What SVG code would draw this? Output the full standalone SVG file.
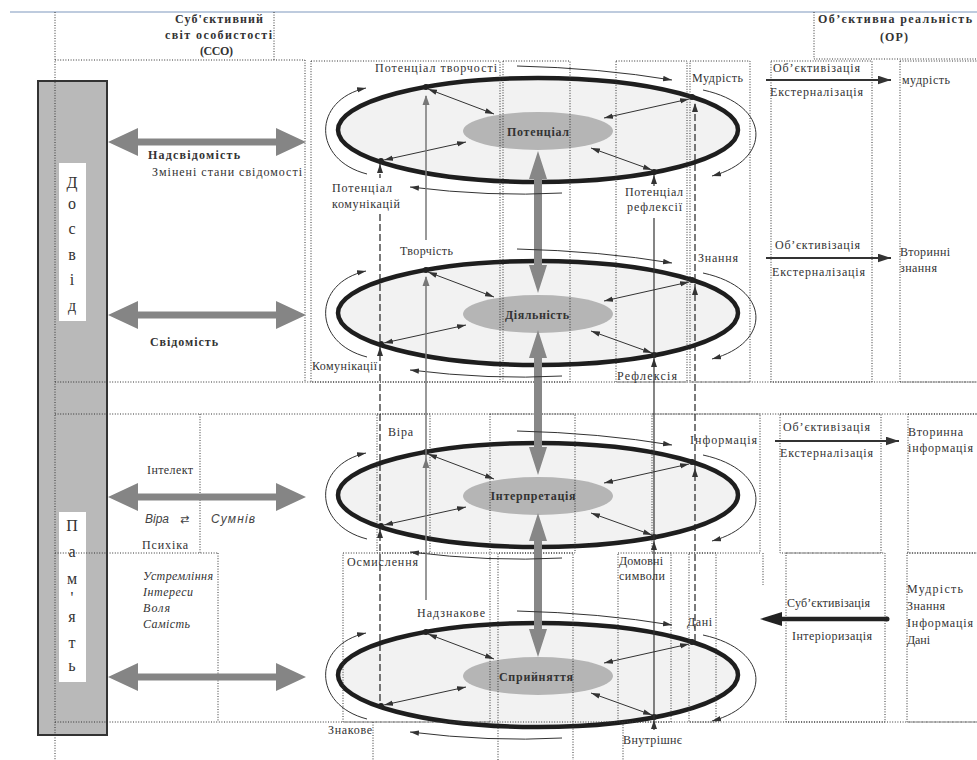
<svg xmlns="http://www.w3.org/2000/svg" xmlns:xlink="http://www.w3.org/1999/xlink" width="977" height="760" viewBox="0 0 977 760">
<defs>
<style>
.t{font-family:"Liberation Serif","DejaVu Serif",serif;font-size:12px;fill:#333}
.b{font-weight:bold}
.i{font-style:italic}
.s{font-family:"Liberation Sans","DejaVu Sans",sans-serif;font-style:italic;font-size:12px;fill:#444}
.c{text-anchor:middle}
.lt{font-family:"Liberation Serif","DejaVu Serif",serif;font-size:16px;fill:#333;text-anchor:middle}
.dot{fill:none;stroke:#333;stroke-width:1;stroke-dasharray:1 1.6}
.dash{fill:none;stroke:#222;stroke-width:1.2;stroke-dasharray:7 3}
.thin{fill:none;stroke:#333;stroke-width:1}
.outer{fill:#f2f2f2;stroke:#1e1e1e;stroke-width:4.5}
.inner{fill:#b5b5b5}
.garrow{fill:#878787}
.pt{fill:#222}
.obj{stroke:#333;stroke-width:2;fill:none}
</style>
<marker id="ah" viewBox="0 0 10 6" refX="10" refY="3" markerWidth="9" markerHeight="6" markerUnits="userSpaceOnUse" orient="auto-start-reverse"><path d="M0,0 L10,3 L0,6 z" fill="#333"/></marker>
<marker id="ahB" viewBox="0 0 12 8" refX="12" refY="4" markerWidth="13" markerHeight="9" markerUnits="userSpaceOnUse" orient="auto"><path d="M0,0 L12,4 L0,8 z" fill="#333"/></marker>
<path id="upA" d="M0,0 L-3,9 L3,9 z" fill="#333"/>
<path id="upG" d="M0,0 L-3.5,10 L3.5,10 z" fill="#777"/>
<path id="harrow" d="M108,0 L138,-14 L138,-3.5 L276,-3.5 L276,-14 L306,0 L276,14 L276,3.5 L138,3.5 L138,14 Z" fill="#858585"/>
<g id="ellU">
<ellipse class="outer" cx="538" cy="130" rx="200" ry="52"/>
<ellipse class="inner" cx="538" cy="131" rx="75" ry="19"/>
<circle class="pt" cx="426" cy="87" r="3"/>
<circle class="pt" cx="381" cy="161" r="3"/>
<circle class="pt" cx="692" cy="97" r="3"/>
<circle class="pt" cx="654" cy="172" r="3"/>
</g>
<g id="conU" class="thin">
<line x1="428" y1="89" x2="494" y2="114" marker-start="url(#ah)" marker-end="url(#ah)"/>
<line x1="384" y1="160" x2="466" y2="142" marker-start="url(#ah)" marker-end="url(#ah)"/>
<line x1="689" y1="99" x2="604" y2="118" marker-start="url(#ah)" marker-end="url(#ah)"/>
<line x1="652" y1="170" x2="591" y2="148" marker-start="url(#ah)" marker-end="url(#ah)"/>
<path d="M367 174 C312 160 312 100 366 88" marker-end="url(#ah)"/>
<path d="M517 66 Q600 68 672 80" marker-end="url(#ah)"/>
<path d="M703 90 C772 105 772 160 712 176" marker-end="url(#ah)"/>
<path d="M562 193 Q490 197 410 187" marker-end="url(#ah)"/>
</g>
</defs>
<rect width="977" height="760" fill="#fff"/>
<line x1="10" y1="12" x2="977" y2="12" stroke="#a9bad3" stroke-width="1.5"/>

<!-- left column -->
<g id="column">
<rect x="38" y="81" width="69" height="654" fill="#b9b9b9" stroke="#333" stroke-width="2"/>
<rect x="59" y="163" width="27" height="158" fill="#fff"/>
<text class="lt" x="72" y="188">Д</text>
<text class="lt" x="72" y="209">о</text>
<text class="lt" x="72" y="234">с</text>
<text class="lt" x="72" y="260">в</text>
<text class="lt" x="72" y="285">і</text>
<text class="lt" x="72" y="311">д</text>
<rect x="59" y="512" width="27" height="170" fill="#fff"/>
<text class="lt" x="72" y="531">П</text>
<text class="lt" x="72" y="557">а</text>
<text class="lt" x="72" y="584">м</text>
<text class="lt" x="72" y="603">'</text>
<text class="lt" x="72" y="622">я</text>
<text class="lt" x="72" y="648">т</text>
<text class="lt" x="72" y="671">ь</text>
</g>

<!-- ellipse nodes -->
<g id="node-potential"><use xlink:href="#ellU"/><text class="t b c" x="538" y="136" textLength="62">Потенціал</text></g>
<g id="node-activity"><use xlink:href="#ellU" y="183"/><text class="t b c" x="537" y="319" textLength="64">Діяльність</text></g>
<g id="node-interpretation"><use xlink:href="#ellU" y="365"/><text class="t b c" x="533" y="500" textLength="85">Інтерпретація</text></g>
<g id="node-perception"><use xlink:href="#ellU" y="545"/><text class="t b c" x="536" y="681" textLength="74">Сприйняття</text></g>

<!-- dotted grid -->
<g id="grid" class="dot">
<line x1="55" y1="12" x2="55" y2="760"/>
<line x1="274" y1="12" x2="274" y2="60"/>
<line x1="55" y1="60" x2="305" y2="60"/>
<polyline points="814,12 814,59 977,59"/>
<line x1="305" y1="60" x2="305" y2="382"/>
<rect x="311" y="61" width="189" height="321"/>
<rect x="503" y="61" width="67" height="321"/>
<rect x="616" y="61" width="71" height="321"/>
<rect x="690" y="61" width="60" height="321"/>
<rect x="771" y="61" width="101" height="321"/>
<rect x="900" y="61" width="80" height="321"/>
<line x1="55" y1="382" x2="977" y2="382"/>
<line x1="55" y1="414" x2="977" y2="414"/>
<line x1="200" y1="414" x2="200" y2="553"/>
<rect x="377" y="414" width="53" height="139"/>
<rect x="490" y="414" width="85" height="139"/>
<rect x="652" y="414" width="108" height="139"/>
<rect x="780" y="414" width="101" height="139"/>
<rect x="908" y="414" width="72" height="139"/>
<line x1="55" y1="553" x2="218" y2="553"/>
<line x1="218" y1="553" x2="218" y2="722"/>
<rect x="343" y="553" width="147" height="169"/>
<polyline points="498,760 498,553 573,553 573,760"/>
<rect x="618" y="553" width="53" height="169"/>
<rect x="689" y="553" width="27" height="169"/>
<line x1="763" y1="553" x2="763" y2="585"/>
<rect x="786" y="553" width="99" height="169"/>
<rect x="907" y="553" width="73" height="169"/>
<line x1="55" y1="722" x2="977" y2="722"/>
<line x1="373" y1="722" x2="373" y2="760"/>
<line x1="623" y1="722" x2="623" y2="760"/>
</g>

<!-- connectors -->
<g id="connectors">
<use xlink:href="#harrow" y="142"/>
<use xlink:href="#harrow" y="315"/>
<use xlink:href="#harrow" y="497"/>
<use xlink:href="#harrow" y="677"/>
<polygon class="garrow" points="538,151 547,179 542,179 542,265 547,265 538,293 529,265 534,265 534,179 529,179"/>
<polygon class="garrow" points="538,330 547,358 542,358 542,447 547,447 538,475 529,447 534,447 534,358 529,358"/>
<polygon class="garrow" points="538,513 547,541 542,541 542,629 547,629 538,657 529,629 534,629 534,541 529,541"/>
<use xlink:href="#conU"/>
<use xlink:href="#conU" y="183"/>
<use xlink:href="#conU" y="365"/>
<use xlink:href="#conU" y="545"/>
<!-- vertical lines -->
<line x1="426" y1="96" x2="426" y2="240" stroke="#777" stroke-width="1.5"/>
<line x1="426" y1="277" x2="426" y2="600" stroke="#777" stroke-width="1.5"/>
<use xlink:href="#upG" x="426" y="95"/>
<use xlink:href="#upG" x="426" y="276"/>
<use xlink:href="#upG" x="426" y="458"/>
<line class="dash" x1="380" y1="164" x2="380" y2="178"/>
<line class="dash" x1="380" y1="214" x2="380" y2="705"/>
<use xlink:href="#upA" x="380" y="164"/>
<use xlink:href="#upA" x="380" y="347"/>
<use xlink:href="#upA" x="380" y="529"/>
<line class="dash" x1="695" y1="104" x2="695" y2="642"/>
<use xlink:href="#upA" x="695" y="103"/>
<use xlink:href="#upA" x="695" y="286"/>
<use xlink:href="#upA" x="695" y="468"/>
<line x1="654" y1="175" x2="654" y2="186" stroke="#333" stroke-width="1.2"/>
<line x1="654" y1="218" x2="654" y2="730" stroke="#333" stroke-width="1.2"/>
<use xlink:href="#upA" x="654" y="175"/>
<use xlink:href="#upA" x="654" y="358"/>
<use xlink:href="#upA" x="654" y="541"/>
<use xlink:href="#upA" x="654" y="720"/>
<!-- objectivization arrows -->
<line class="obj" x1="766" y1="80" x2="891" y2="80" marker-end="url(#ahB)"/>
<line class="obj" x1="766" y1="258" x2="891" y2="258" marker-end="url(#ahB)"/>
<line class="obj" x1="775" y1="441" x2="899" y2="441" marker-end="url(#ahB)"/>
<line x1="887" y1="619" x2="780" y2="619" stroke="#222" stroke-width="4.5"/>
<path d="M760,619 L782,612 L782,626 Z" fill="#222"/>
<circle cx="887" cy="619" r="2.5" fill="#222"/>
</g>

<!-- labels -->
<g id="labels">
<text class="t b" x="175" y="23" textLength="88">Суб'єктивний</text>
<text class="t b" x="165" y="39" textLength="107">світ особистості</text>
<text class="t b" x="200" y="55" textLength="33">(ССО)</text>
<text class="t b" x="818" y="23" textLength="154">Об’єктивна реальність</text>
<text class="t b" x="880" y="41" textLength="28">(ОР)</text>

<text class="t b" x="148" y="159" textLength="92">Надсвідомість</text>
<text class="t" x="152" y="176" textLength="150">Змінені стани свідомості</text>
<text class="t b" x="150" y="346" textLength="68">Свідомість</text>
<text class="t" x="147" y="474" textLength="46">Інтелект</text>
<text class="s" x="145" y="523">Віра</text>
<text class="s" x="180" y="523" style="font-style:normal;font-family:'DejaVu Sans',sans-serif;font-size:11px">⇄</text>
<text class="s" x="211" y="523" textLength="44">Сумнів</text>
<text class="t" x="142" y="549" textLength="46">Психіка</text>
<text class="t i" x="143" y="580" textLength="70">Устремління</text>
<text class="t i" x="143" y="596" textLength="50">Інтереси</text>
<text class="t i" x="143" y="612" textLength="27">Воля</text>
<text class="t i" x="143" y="628" textLength="47">Самість</text>

<text class="t" x="375" y="72" textLength="122">Потенціал творчості</text>
<text class="t" x="332" y="192" textLength="60">Потенціал</text>
<text class="t" x="332" y="208" textLength="68">комунікацій</text>
<text class="t" x="625" y="196" textLength="58">Потенціал</text>
<text class="t" x="627" y="211" textLength="55">рефлексії</text>
<text class="t" x="692" y="82" textLength="51">Мудрість</text>

<text class="t" x="400" y="255" textLength="53">Творчість</text>
<text class="t" x="312" y="370" textLength="65">Комунікації</text>
<text class="t" x="617" y="380" textLength="60">Рефлексія</text>
<text class="t" x="698" y="262" textLength="40">Знання</text>

<text class="t" x="388" y="436" textLength="25">Віра</text>
<text class="t" x="347" y="566" textLength="71">Осмислення</text>
<text class="t" x="619" y="565" textLength="44">Домовні</text>
<text class="t" x="619" y="580" textLength="46">символи</text>
<text class="t" x="690" y="444" textLength="67">Інформація</text>

<text class="t" x="417" y="617" textLength="68">Надзнакове</text>
<text class="t" x="328" y="734" textLength="44">Знакове</text>
<text class="t" x="623" y="744" textLength="59">Внутрішнє</text>
<text class="t" x="687" y="626" textLength="25">Дані</text>

<text class="t" x="773" y="72" textLength="87">Об’єктивізація</text>
<text class="t" x="770" y="96" textLength="93">Екстерналізація</text>
<text class="t" x="902" y="84" textLength="48">мудрість</text>
<text class="t" x="775" y="249" textLength="85">Об’єктивізація</text>
<text class="t" x="772" y="276" textLength="93">Екстерналізація</text>
<text class="t" x="900" y="256" textLength="50">Вторинні</text>
<text class="t" x="900" y="272" textLength="37">знання</text>
<text class="t" x="783" y="431" textLength="87">Об’єктивізація</text>
<text class="t" x="780" y="457" textLength="93">Екстерналізація</text>
<text class="t" x="908" y="436" textLength="55">Вторинна</text>
<text class="t" x="908" y="452" textLength="65">інформація</text>
<text class="t" x="787" y="607" textLength="83">Суб’єктивізація</text>
<text class="t" x="792" y="640" textLength="80">Інтеріоризація</text>
<text class="t" x="907" y="593" textLength="56">Мудрість</text>
<text class="t" x="907" y="610" textLength="38">Знання</text>
<text class="t" x="907" y="627" textLength="66">Інформація</text>
<text class="t" x="907" y="644" textLength="23">Дані</text>
</g>
</svg>
